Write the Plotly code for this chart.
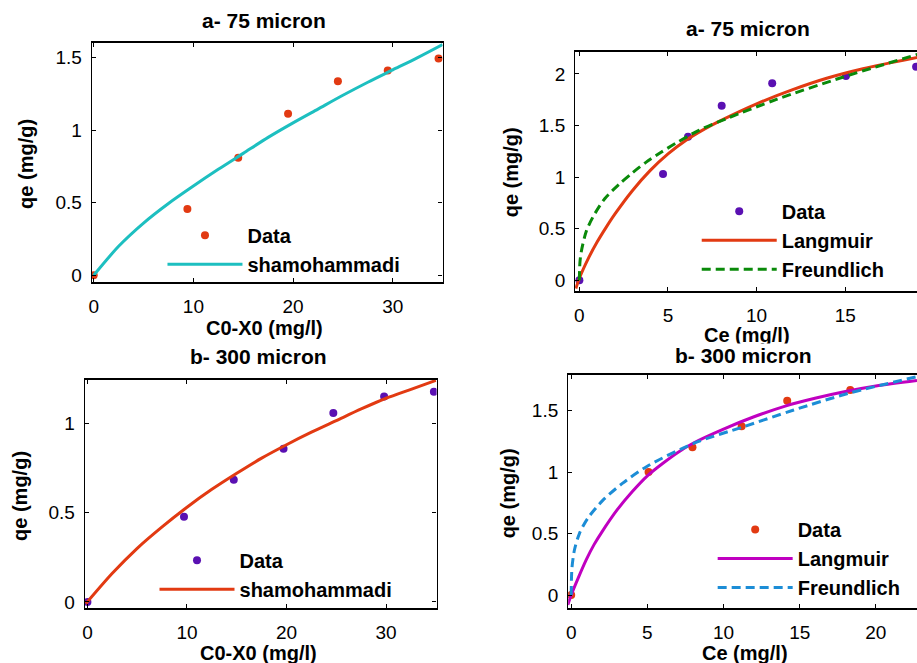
import plotly.graph_objects as go

# ---------------- data ----------------
# a- 75 micron : qe against C0-X0 with the shamohammadi fit
c0x0_a = [0.0, 9.4, 14.5, 19.5, 24.5, 29.5, 34.6]
qe_a = [0.0, 0.457, 0.81, 1.113, 1.336, 1.41, 1.493]
sham_a_x = [0.0, 2.5, 5.0, 7.5, 10.0, 12.5, 15.0, 17.5, 20.0, 22.5, 25.0, 27.5, 30.0, 32.5, 35.0]
sham_a_y = [0.0, 0.2, 0.36, 0.495, 0.615, 0.73, 0.84, 0.95, 1.05, 1.145, 1.24, 1.33, 1.415, 1.5, 1.59]

# a- 75 micron : qe against Ce with Langmuir / Freundlich fits
ce_a = [0.0, 4.72, 6.13, 8.03, 10.88, 15.04, 19.0]
qe_ce_a = [0.0, 1.03, 1.39, 1.69, 1.91, 1.98, 2.07]
lang_a_x = [-0.2, 0.0, 0.5, 1.0, 1.5, 2.0, 3.0, 4.0, 5.0, 6.0, 7.0, 8.0, 10.0, 12.0, 14.0, 16.0, 19.1]
lang_a_y = [-0.08, 0.02, 0.21, 0.37, 0.51, 0.64, 0.87, 1.065, 1.225, 1.355, 1.46, 1.55, 1.71, 1.845, 1.96, 2.05, 2.16]
freu_a_x = [0.0, 0.03, 0.11, 0.39, 0.77, 1.43, 2.27, 3.02, 3.77, 4.61, 5.46, 6.77, 8.35, 11.16, 14.9, 19.1]
freu_a_y = [0.0, 0.17, 0.28, 0.475, 0.615, 0.79, 0.935, 1.045, 1.145, 1.24, 1.33, 1.455, 1.57, 1.755, 1.97, 2.19]

# b- 300 micron : qe against C0-X0 with the shamohammadi fit
c0x0_b = [0.0, 9.7, 14.7, 19.7, 24.7, 29.8, 34.8]
qe_b = [0.0, 0.476, 0.684, 0.857, 1.057, 1.15, 1.176]
sham_b_x = [-0.16, 2.5, 5.0, 7.5, 10.0, 12.5, 15.0, 17.5, 20.0, 22.5, 25.0, 27.5, 30.0, 32.5, 35.0]
sham_b_y = [-0.01, 0.16, 0.3, 0.42, 0.53, 0.63, 0.72, 0.805, 0.88, 0.95, 1.015, 1.08, 1.14, 1.19, 1.24]

# b- 300 micron : qe against Ce with Langmuir / Freundlich fits
ce_b = [0.0, 5.08, 7.96, 11.19, 14.18, 18.32]
qe_ce_b = [0.0, 1.0, 1.203, 1.373, 1.58, 1.667]
lang_b_x = [-0.22, 0.0, 0.5, 1.0, 1.5, 2.0, 3.0, 4.0, 5.0, 6.0, 7.0, 8.0, 10.0, 12.0, 14.0, 16.0, 18.0, 20.0, 22.7]
lang_b_y = [-0.08, 0.0, 0.15, 0.29, 0.41, 0.51, 0.69, 0.84, 0.97, 1.07, 1.16, 1.235, 1.35, 1.45, 1.535, 1.6, 1.655, 1.7, 1.745]
freu_b_x = [0.0, 0.05, 0.22, 0.54, 1.09, 2.07, 3.38, 5.02, 8.07, 11.34, 14.61, 18.33, 22.7]
freu_b_y = [0.0, 0.22, 0.37, 0.5, 0.625, 0.77, 0.91, 1.05, 1.235, 1.37, 1.505, 1.645, 1.776]

panel_titles = ["a- 75 micron", "a- 75 micron", "b- 300 micron", "b- 300 micron"]
x_titles = ["C0-X0 (mg/l)", "Ce (mg/l)", "C0-X0 (mg/l)", "Ce (mg/l)"]
y_title = "qe (mg/g)"

# ---------------- style ----------------
W, H = 917, 663
FONT = "Liberation Sans, Arial, sans-serif"
RED = "#E23A12"
PURPLE = "#5A10B2"
CYAN = "#1DBFC0"
GREEN = "#0A8A0A"
MAGENTA = "#C000C0"
BLUE = "#1C8DD6"
DASH = "9px,5px"


def px_x(p):
    return p / W


def px_y(p):
    return 1 - p / H


fig = go.Figure()


def data_trace(x, y, color, ax, legend):
    return go.Scatter(x=x, y=y, mode="markers", name="Data",
                      marker=dict(color=color, size=8, line=dict(width=0)),
                      xaxis="x" + ax, yaxis="y" + ax, legend=legend,
                      legendgroup=legend + "d", cliponaxis=True)


def fit_trace(x, y, name, color, ax, legend, dash="solid"):
    return go.Scatter(x=x, y=y, mode="lines", name=name,
                      line=dict(color=color, width=3, dash=dash, shape="spline", smoothing=0.8),
                      xaxis="x" + ax, yaxis="y" + ax, legend=legend,
                      legendgroup=legend + name)


fig.add_trace(data_trace(c0x0_a, qe_a, RED, "", "legend"))
fig.add_trace(fit_trace(sham_a_x, sham_a_y, "shamohammadi", CYAN, "", "legend"))

fig.add_trace(data_trace(ce_a, qe_ce_a, PURPLE, "2", "legend2"))
fig.add_trace(fit_trace(lang_a_x, lang_a_y, "Langmuir", RED, "2", "legend2"))
fig.add_trace(fit_trace(freu_a_x, freu_a_y, "Freundlich", GREEN, "2", "legend2", dash=DASH))

fig.add_trace(data_trace(c0x0_b, qe_b, PURPLE, "3", "legend3"))
fig.add_trace(fit_trace(sham_b_x, sham_b_y, "shamohammadi", RED, "3", "legend3"))

fig.add_trace(data_trace(ce_b, qe_ce_b, RED, "4", "legend4"))
fig.add_trace(fit_trace(lang_b_x, lang_b_y, "Langmuir", MAGENTA, "4", "legend4"))
fig.add_trace(fit_trace(freu_b_x, freu_b_y, "Freundlich", BLUE, "4", "legend4", dash=DASH))

tickfont = dict(family=FONT, size=19, color="black")


def xaxis(domain, rng, dtick, anchor):
    return dict(domain=domain, range=rng, dtick=dtick, tick0=0, anchor=anchor,
                showgrid=False, zeroline=False, showline=True, linecolor="black",
                linewidth=2, mirror="ticks", ticks="inside", ticklen=4,
                tickcolor="black", tickfont=tickfont, ticklabelstandoff=6)


def yaxis(domain, rng, anchor, mirror):
    return dict(domain=domain, range=rng, dtick=0.5, tick0=0, anchor=anchor,
                showgrid=False, zeroline=False, showline=True, linecolor="black",
                linewidth=1.2, mirror=mirror, ticks="inside", ticklen=4,
                tickcolor="black", tickfont=tickfont, ticklabelstandoff=5)


# panel boxes in pixels: (left, right, top, bottom)
boxes = [(89, 441, 43, 284), (574, 917, 52, 293), (82, 435, 382, 612), (567, 917, 377, 612)]
dom = [([px_x(l), min(px_x(r), 1.0)], [px_y(b), px_y(t)]) for (l, r, t, b) in boxes]

fig.update_layout(
    xaxis=xaxis(dom[0][0], [-0.2, 35.0], 10, "y"),
    yaxis=yaxis(dom[0][1], [-0.048, 1.602], "x", "ticks"),
    xaxis2=xaxis(dom[1][0], [-0.24, 19.05], 5, "y2"),
    yaxis2=yaxis(dom[1][1], [-0.106, 2.215], "x2", False),
    xaxis3=xaxis(dom[2][0], [-0.27, 35.07], 10, "y3"),
    yaxis3=yaxis(dom[2][1], [-0.036, 1.244], "x3", "ticks"),
    xaxis4=xaxis(dom[3][0], [-0.2, 22.7], 5, "y4"),
    yaxis4=yaxis(dom[3][1], [-0.108, 1.792], "x4", False),
)

legfont = dict(family=FONT, size=20, color="black", weight="bold")


def legend(x, y):
    return dict(x=x, y=y, xanchor="left", yanchor="top", xref="paper", yref="paper",
                bgcolor="rgba(0,0,0,0)", borderwidth=0, font=legfont,
                traceorder="grouped", tracegroupgap=0, itemwidth=75)


fig.update_layout(
    legend=legend(px_x(160), px_y(217)),
    legend2=legend(px_x(696), px_y(193)),
    legend3=legend(px_x(152), px_y(544)),
    legend4=legend(px_x(712), px_y(513)),
)

bold = dict(family=FONT, size=20, color="black", weight="bold")
title_font = dict(family=FONT, size=21, color="black", weight="bold")
annotations = []
# x-axis titles
for txt, (cx, cy) in zip(x_titles, [(262, 330), (746, 337), (256, 657), (744, 657)]):
    annotations.append(dict(text=txt, x=px_x(cx), y=px_y(cy), xref="paper", yref="paper",
                            showarrow=False, xanchor="center", yanchor="middle", font=bold))
# panel titles (drawn after the axis titles, on a white ground)
for txt, (cx, cy) in zip(panel_titles, [(262, 21), (747, 29), (256, 359), (743, 358)]):
    annotations.append(dict(text=txt, x=px_x(cx), y=px_y(cy), xref="paper", yref="paper",
                            showarrow=False, xanchor="center", yanchor="middle",
                            bgcolor="white", borderpad=0, font=title_font))
# y-axis titles
for (cx, cy) in [(23, 165), (510, 173), (17, 499), (507, 496)]:
    annotations.append(dict(text=y_title, x=px_x(cx), y=px_y(cy), xref="paper", yref="paper",
                            showarrow=False, xanchor="center", yanchor="middle",
                            textangle=-90, font=bold))

fig.update_layout(
    width=W, height=H,
    margin=dict(l=0, r=0, t=0, b=0),
    paper_bgcolor="white", plot_bgcolor="white",
    annotations=annotations,
    showlegend=True,
)

fig.write_html("out.html", config={"displayModeBar": False})
